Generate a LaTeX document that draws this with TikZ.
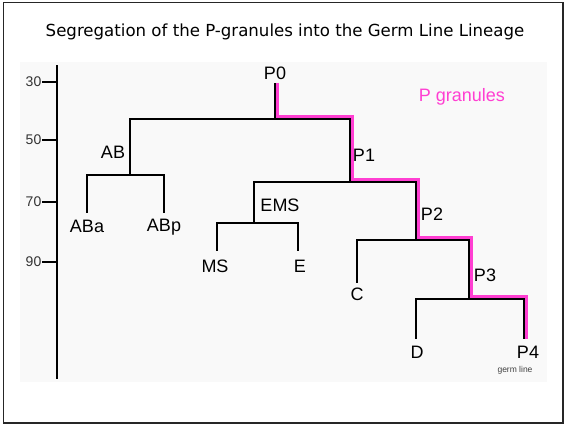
\documentclass[tikz,border=0pt]{standalone}
\usepackage{fontspec}
\setmainfont{Liberation Sans}
\newfontfamily\titlefont{DejaVu Sans}
\definecolor{pgran}{HTML}{FF3FD2}
\definecolor{bgpanel}{HTML}{F9F9F9}
\begin{document}
\begin{tikzpicture}[x=1pt,y=-1pt,
  tree/.style={line width=2.9pt,line cap=rect},
  pline/.style={line width=2.5pt,pgran,line cap=rect},
  lbl/.style={font=\fontsize{18}{18}\selectfont,inner sep=0pt},
  axlbl/.style={font=\fontsize{14}{14}\selectfont,inner sep=0pt,anchor=east,black!80},
  tick/.style={line width=2.2pt}]
\useasboundingbox (0,0) rectangle (565,426);
\draw[line width=1.5pt,black!85] (3.5,2.5) rectangle (563,423);
\fill[bgpanel] (20,62) rectangle (547,382);
\node[font=\titlefont\fontsize{16.6}{17}\selectfont] (title) at (285,32) {Segregation of the P-granules into the Germ Line Lineage};

% axis
\coordinate (axtop) at (57,65);
\coordinate (axbot) at (57,379);
\draw[line width=2.6pt] (axtop) -- (axbot);
\foreach \v/\yy in {30/81.7,50/140,70/201.7,90/261.7}{
  \coordinate (t\v) at (42,\yy);
  \coordinate (a\v) at (57,\yy);
  \draw[tick] (t\v) -- (a\v);
  \node[axlbl] (l\v) at (41.5,\yy) {\v};
}

% tree coordinates
\coordinate (r) at (275,84);
\coordinate (j0) at (275,119);
\coordinate (jAB) at (130,175);
\coordinate (j1) at (350,182);
\coordinate (jEMS) at (254,223);
\coordinate (j2) at (416,240);
\coordinate (j3) at (469,299);
\coordinate (eABa) at (87,212);
\coordinate (eABp) at (164,212);
\coordinate (eMS) at (217,250);
\coordinate (eE) at (298,250);
\coordinate (eC) at (357,282);
\coordinate (eD) at (416,338);
\coordinate (eP4) at (524,338);
\coordinate (rp) at (275,86.6);
\coordinate (eP4p) at (524,340.6);

% P granule path
\draw[pline,transform canvas={shift={(2.6,-2.6)}}] (rp) -- (j0) -| (j1) -| (j2) -| (j3) -| (eP4p);

% black tree
\draw[tree] (r) -- (j0);
\draw[tree] (jAB) |- (j0) -| (j1);
\draw[tree] (eABa) |- (jAB) -| (eABp);
\draw[tree] (jEMS) |- (j1) -| (j2);
\draw[tree] (eMS) |- (jEMS) -| (eE);
\draw[tree] (eC) |- (j2) -| (j3);
\draw[tree] (eD) |- (j3) -| (eP4);

% labels
\node[lbl] (P0) at (275,73) {P0};
\node[lbl] (AB) at (113,152) {AB};
\node[lbl] (ABa) at (87,226) {ABa};
\node[lbl] (ABp) at (164,227) {ABp};
\node[lbl] (P1) at (364,155) {P1};
\node[lbl] (EMS) at (280,205) {EMS};
\node[lbl] (MS) at (215,266) {MS};
\node[lbl] (E) at (300,266) {E};
\node[lbl] (P2) at (432,214) {P2};
\node[lbl] (C) at (357,294) {C};
\node[lbl] (P3) at (485,275) {P3};
\node[lbl] (D) at (417,352) {D};
\node[lbl] (P4) at (528,352) {P4};
\node[font=\fontsize{8.5}{9}\selectfont,inner sep=0pt,black!75] (germ) at (515,370) {germ line};
\node[lbl,pgran] (pg) at (462,97) {P granules};
\end{tikzpicture}
\end{document}
